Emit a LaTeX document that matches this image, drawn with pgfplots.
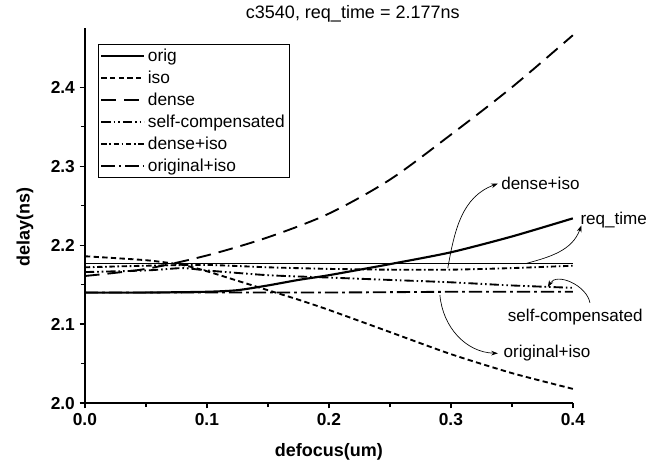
\documentclass[border=0pt]{standalone}
\usepackage{pgfplots}
\pgfplotsset{compat=1.18}
\usepackage{fontspec}
\setmainfont{Liberation Sans}
\usetikzlibrary{arrows.meta}

\begin{document}
\begin{tikzpicture}
\begin{axis}[
    scale only axis,
    width=366pt,
    height=281.25pt,
    xmin=0, xmax=0.4,
    ymin=2.0, ymax=2.475,
    axis x line*=bottom,
    axis y line*=left,
    x axis line style={-, line width=1.1pt},
    y axis line style={-, line width=1.1pt},
    xtick={0,0.1,0.2,0.3,0.4},
    xticklabels={0.0,0.1,0.2,0.3,0.4},
    ytick={2.0,2.1,2.2,2.3,2.4},
    yticklabels={2.0,2.1,2.2,2.3,2.4},
    minor x tick num=1,
    minor y tick num=1,
    tick align=outside,
    major tick length=4pt,
    minor tick length=3pt,
    tick style={line width=1pt, black},
    tick label style={font=\bfseries\fontsize{13}{15}\selectfont},
    xlabel={defocus(um)},
    ylabel={delay(ns)},
    every axis x label/.style={at={(axis description cs:0.5,-0.131)}, anchor=center,
        font=\bfseries\fontsize{13.5}{15}\selectfont},
    every axis y label/.style={at={(axis description cs:-0.123,0.469)}, rotate=90, anchor=center,
        font=\bfseries\fontsize{13.5}{15}\selectfont},
    clip=false,
    legend cell align=left,
    legend style={
        at={(0.027,0.957)},
        anchor=north west,
        draw=black,
        line width=0.5pt,
        font=\fontsize{13}{15}\selectfont,
        inner xsep=1.5pt,
        inner ysep=1.2pt,
        row sep=1.6pt
    },
    legend image code/.code={\draw[#1] (0pt,0pt) -- (32pt,0pt);}
]

% orig
\addplot[line width=1.6pt, smooth, tension=0.4] coordinates {
(0,2.140) (0.05,2.140) (0.1,2.141) (0.125,2.143) (0.15,2.149) (0.175,2.156)
(0.2,2.162) (0.25,2.176) (0.3,2.191) (0.35,2.211) (0.4,2.234)
};
\addlegendentry{orig}

% iso
\addplot[line width=1.4pt, smooth, tension=0.4, dash pattern=on 4pt off 2.5pt] coordinates {
(0,2.186) (0.05,2.181) (0.08,2.175) (0.1,2.167) (0.125,2.155) (0.15,2.143)
(0.175,2.131) (0.2,2.118) (0.25,2.090) (0.3,2.062) (0.35,2.038) (0.4,2.018)
};
\addlegendentry{iso}

% dense
\addplot[line width=1.4pt, smooth, tension=0.5, dash pattern=on 11pt off 6pt] coordinates {
(0,2.161) (0.05,2.170) (0.1,2.187) (0.15,2.210) (0.2,2.240) (0.25,2.283)
(0.3,2.340) (0.35,2.400) (0.4,2.466)
};
\addlegendentry{dense}

% self-compensated
\addplot[line width=1.4pt, smooth, tension=0.4, dash pattern=on 7pt off 2.2pt on 1.2pt off 2.2pt on 1.2pt off 2.2pt] coordinates {
(0,2.166) (0.05,2.168) (0.08,2.171) (0.1,2.168) (0.15,2.162) (0.2,2.159)
(0.25,2.156) (0.3,2.153) (0.35,2.149) (0.4,2.146)
};
\addlegendentry{self-compensated}

% dense+iso
\addplot[line width=1.4pt, smooth, tension=0.4, dash pattern=on 4pt off 2pt on 1.2pt off 2pt] coordinates {
(0,2.172) (0.05,2.174) (0.1,2.175) (0.15,2.172) (0.2,2.170) (0.25,2.169)
(0.3,2.169) (0.35,2.171) (0.4,2.174)
};
\addlegendentry{dense+iso}

% original+iso
\addplot[line width=1.4pt, dash pattern=on 10pt off 3pt on 2pt off 3pt] coordinates {
(0,2.140) (0.1,2.140) (0.2,2.140) (0.3,2.141) (0.4,2.141)
};
\addlegendentry{original+iso}

% req_time
\addplot[line width=0.6pt, forget plot] coordinates {(0,2.177) (0.4,2.177)};

% title
\node[font=\fontsize{13.5}{16}\selectfont] at (rel axis cs:0.549,1.037) {c3540, req\_time = 2.177ns};

% annotations
\draw[line width=0.5pt, -{Stealth[length=5pt,width=3.5pt]}]
    (axis cs:0.2975,2.171) to[out=80,in=200] (axis cs:0.3385,2.278);
\node[anchor=west, font=\fontsize{12.8}{15}\selectfont, inner sep=1pt] at (axis cs:0.340,2.278) {dense+iso};

\draw[line width=0.5pt, -{Stealth[length=5pt,width=3.5pt]}]
    (axis cs:0.362,2.177) to[out=15,in=250] (axis cs:0.407,2.225);
\node[anchor=west, font=\fontsize{12.8}{15}\selectfont, inner sep=1pt] at (axis cs:0.405,2.232) {req\_time};

\draw[line width=0.5pt, -{Stealth[length=5pt,width=3.5pt]}]
    (axis cs:0.414,2.127) to[out=100,in=60] (axis cs:0.3795,2.147);
\node[font=\fontsize{12.8}{15}\selectfont, inner sep=1pt] at (axis cs:0.402,2.109) {self-compensated};

\draw[line width=0.5pt, -{Stealth[length=5pt,width=3.5pt]}]
    (axis cs:0.291,2.137) to[out=-85,in=178] (axis cs:0.3385,2.063);
\node[anchor=west, font=\fontsize{12.8}{15}\selectfont, inner sep=1pt] at (axis cs:0.342,2.063) {original+iso};

\coordinate (bbsw) at (rel axis cs:-0.174,-0.163);
\coordinate (bbne) at (rel axis cs:1.154,1.075);
\end{axis}
\pgfresetboundingbox
\path[use as bounding box] (bbsw) rectangle (bbne);
\end{tikzpicture}
\end{document}
